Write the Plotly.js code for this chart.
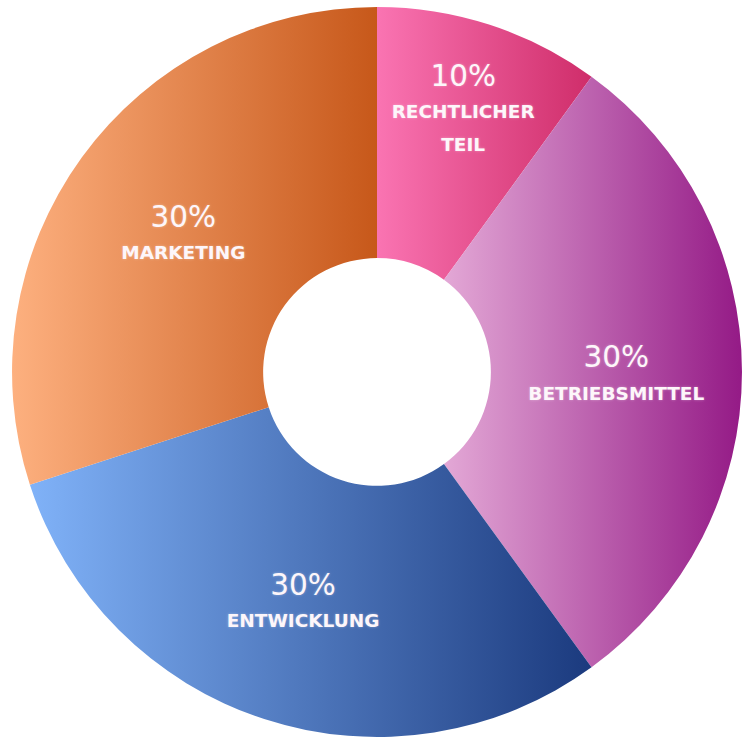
<!DOCTYPE html>
<html>
<head>
<meta charset="utf-8">
<script src="https://cdn.plot.ly/plotly-3.0.1.min.js"></script>
<style>
  html, body { margin: 0; padding: 0; background: #ffffff; }
  #chart { width: 742px; height: 738px; }
</style>
</head>
<body>
<div id="chart"></div>
<script>
// Data
var categories = ["RECHTLICHER<br>TEIL", "BETRIEBSMITTEL", "ENTWICKLUNG", "MARKETING"];
var shares = [10, 30, 30, 30];
var percentLabels = ["10%", "30%", "30%", "30%"];

// Styles
var baseColors = ["#e84d90", "#c060b0", "#4a78c8", "#e8874a"];
var gradientStops = [
  ["#fa74b2", "#cf2d6a"],
  ["#e3a8d6", "#941a86"],
  ["#80b2f8", "#1b3a7e"],
  ["#fdb07f", "#c7581a"]
];

var texts = categories.map(function (c, i) {
  return "<span style='font-size:29.5px'>" + percentLabels[i] + "</span><br><span style='font-size:18.5px;font-weight:bold'>" + c + "</span>";
});

var trace = {
  type: "pie",
  values: shares,
  labels: categories,
  text: texts,
  textinfo: "text",
  hoverinfo: "none",
  textposition: "inside",
  insidetextorientation: "horizontal",
  sort: false,
  direction: "clockwise",
  rotation: 0,
  hole: 0.312,
  marker: { colors: baseColors, line: { width: 0 } },
  textfont: { family: "DejaVu Sans", size: 25, color: "#fdf6fa", weight: "normal",
              shadow: "0px 0px 3px rgba(255,255,255,0.35)" },
  domain: { x: [0.0162, 1.0], y: [0.0014, 0.9905] }
};

var layout = {
  width: 742,
  height: 738,
  margin: { l: 0, r: 0, t: 0, b: 0 },
  showlegend: false,
  paper_bgcolor: "#ffffff",
  plot_bgcolor: "#ffffff"
};

Plotly.newPlot("chart", [trace], layout, { displayModeBar: false, staticPlot: true }).then(function (gd) {
  var svg = gd.querySelector(".main-svg");
  var ns = "http://www.w3.org/2000/svg";
  var defs = svg.querySelector("defs");
  if (!defs) { defs = document.createElementNS(ns, "defs"); svg.insertBefore(defs, svg.firstChild); }
  gradientStops.forEach(function (stops, i) {
    var g = document.createElementNS(ns, "linearGradient");
    g.setAttribute("id", "sliceGrad" + i);
    g.setAttribute("x1", "0"); g.setAttribute("y1", "0");
    g.setAttribute("x2", "1"); g.setAttribute("y2", "0");
    stops.forEach(function (c, k) {
      var s = document.createElementNS(ns, "stop");
      s.setAttribute("offset", k === 0 ? "0" : "1");
      s.setAttribute("stop-color", c);
      g.appendChild(s);
    });
    defs.appendChild(g);
  });
  var paths = gd.querySelectorAll(".slice path.surface");
  paths.forEach(function (p, i) {
    p.style.fill = "url(#sliceGrad" + i + ")";
  });
});
</script>
</body>
</html>
